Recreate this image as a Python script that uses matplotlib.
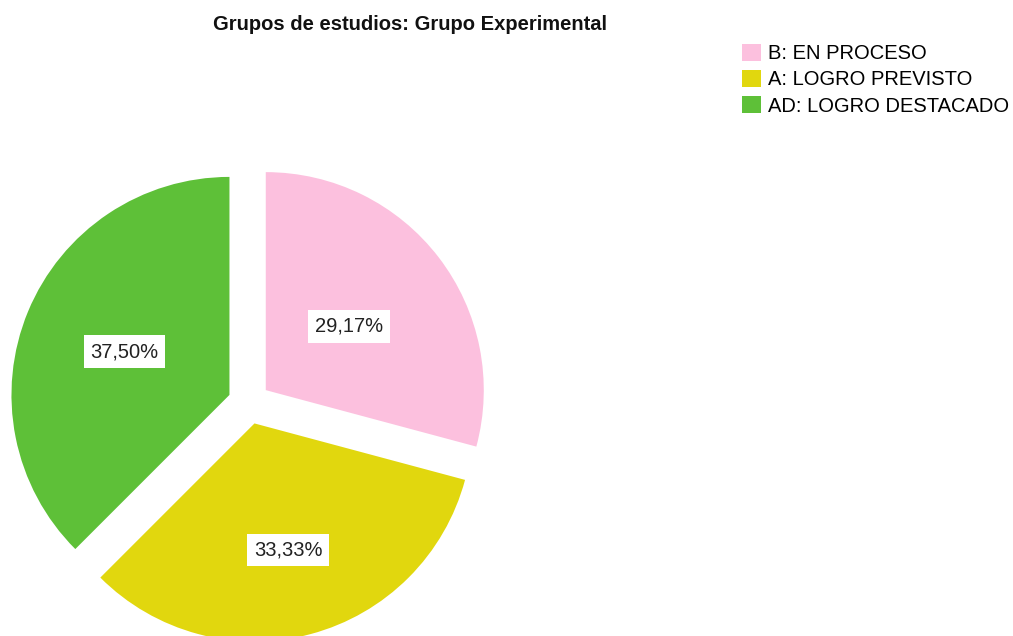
import matplotlib.pyplot as plt
import numpy as np

labels = ["B: EN PROCESO", "A: LOGRO PREVISTO", "AD: LOGRO DESTACADO"]
values = [29.17, 33.33, 37.50]
colors = ["#FCC0DE", "#E1D70E", "#5EC038"]
label_dist = [0.48, 0.60, 0.52]

plt.rcParams["font.family"] = ["Liberation Sans", "DejaVu Sans"]

W, H = 1013, 636
cx, cy, r = 249, 403, 218

fig = plt.figure(figsize=(W / 100, H / 100), dpi=100)
ax = fig.add_axes([0, 0, 1, 1])

wedges, texts, autotexts = ax.pie(
    values,
    colors=colors,
    explode=[0.097] * len(values),
    startangle=90,
    counterclock=False,
    autopct=lambda p: f"{p:.2f}%".replace(".", ","),
    pctdistance=0.5,
    textprops=dict(fontsize=14.5, color="#222222"),
    wedgeprops=dict(linewidth=0),
)

# put the percent labels along each wedge's mid-line
for w, t, d in zip(wedges, autotexts, label_dist):
    ang = np.deg2rad((w.theta1 + w.theta2) / 2)
    ox, oy = w.center
    t.set_position((ox + d * np.cos(ang), oy + d * np.sin(ang)))
    t.set_bbox(dict(boxstyle="square,pad=0.33", facecolor="white", edgecolor="none"))

ax.set_xlim(-cx / r, (W - cx) / r)
ax.set_ylim(-(H - cy) / r, cy / r)
ax.set_aspect("auto")
ax.axis("off")

fig.text(410 / W, 1 - 24 / H, "Grupos de estudios: Grupo Experimental",
         ha="center", va="center", fontsize=14.5, fontweight="bold", color="#111111")

ax.legend(
    wedges, labels,
    loc="upper left",
    bbox_to_anchor=(742 / W, 1 - 44 / H),
    bbox_transform=fig.transFigure,
    frameon=False,
    fontsize=14.5,
    handlelength=0.95,
    handleheight=0.92,
    handletextpad=0.35,
    labelspacing=0.33,
    borderpad=0,
    borderaxespad=0,
)

fig.savefig("out.png", dpi=100)
